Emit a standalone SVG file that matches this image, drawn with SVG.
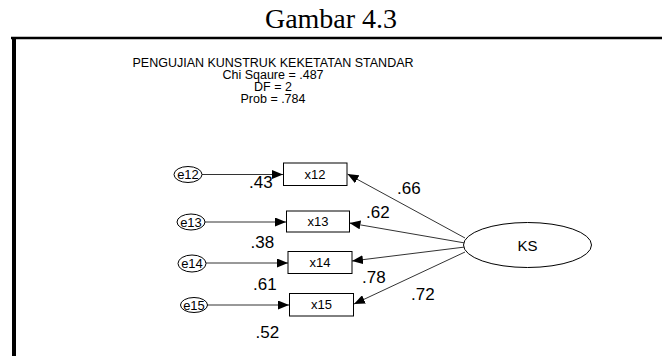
<svg xmlns="http://www.w3.org/2000/svg" width="662" height="356" viewBox="0 0 662 356">
<style>
.t{font-family:"Liberation Sans",Arial,sans-serif;fill:#000}
.title{font-family:"Liberation Serif","Times New Roman",serif;font-size:28px;fill:#000}
.hdr{font-size:12.5px}
.box{fill:#fff;stroke:#000;stroke-width:1}
.ell{fill:#fff;stroke:#000;stroke-width:1}
.lbl{font-size:13px}
.coef{font-size:17px}
.ln{stroke:#333;stroke-width:1;fill:none;marker-end:url(#ah)}
</style>
<defs>
<marker id="ah" markerUnits="userSpaceOnUse" markerWidth="11" markerHeight="9" refX="11" refY="4.5" orient="auto">
<path d="M0,0 L11,4.5 L0,9 z" fill="#000"/>
</marker>
</defs>
<rect width="662" height="356" fill="#fff"/>
<text class="title" x="331" y="28" text-anchor="middle">Gambar 4.3</text>
<g id="frame">
<line x1="11" y1="38" x2="662" y2="38" stroke="#000" stroke-width="2.5"/>
<line x1="14" y1="37" x2="14" y2="356" stroke="#000" stroke-width="4"/>
</g>
<g id="header" class="t hdr" text-anchor="middle">
<text x="273" y="67">PENGUJIAN KUNSTRUK KEKETATAN STANDAR</text>
<text x="273" y="79">Chi Sqaure = .487</text>
<text x="273" y="91">DF = 2</text>
<text x="273" y="103">Prob = .784</text>
</g>
<g id="connectors">
<line class="ln" x1="202" y1="174.5" x2="283" y2="174.5"/>
<line class="ln" x1="205" y1="222" x2="286" y2="222"/>
<line class="ln" x1="205" y1="263" x2="288" y2="263"/>
<line class="ln" x1="207" y1="305" x2="289" y2="305"/>
<line class="ln" x1="465" y1="238" x2="347.5" y2="174"/>
<line class="ln" x1="465" y1="243" x2="349.5" y2="223"/>
<line class="ln" x1="465" y1="247" x2="352" y2="261"/>
<line class="ln" x1="465" y1="252" x2="354" y2="304"/>
</g>
<g id="e12"><ellipse class="ell" cx="188" cy="174.5" rx="14" ry="8"/><text class="t lbl" x="188" y="179" text-anchor="middle">e12</text></g>
<g id="e13"><ellipse class="ell" cx="191" cy="222" rx="14" ry="8"/><text class="t lbl" x="191" y="226.5" text-anchor="middle">e13</text></g>
<g id="e14"><ellipse class="ell" cx="192" cy="263.5" rx="14" ry="8.5"/><text class="t lbl" x="192" y="268" text-anchor="middle">e14</text></g>
<g id="e15"><ellipse class="ell" cx="194" cy="305" rx="13.5" ry="7.5"/><text class="t lbl" x="194" y="309.5" text-anchor="middle">e15</text></g>
<g id="x12"><rect class="box" x="283.5" y="163" width="63.5" height="22.5"/><text class="t lbl" x="315" y="179" text-anchor="middle">x12</text></g>
<g id="x13"><rect class="box" x="286.5" y="211" width="63" height="21"/><text class="t lbl" x="318" y="226" text-anchor="middle">x13</text></g>
<g id="x14"><rect class="box" x="288" y="251.5" width="64" height="22"/><text class="t lbl" x="320" y="267" text-anchor="middle">x14</text></g>
<g id="x15"><rect class="box" x="289.5" y="293.5" width="64" height="22.5"/><text class="t lbl" x="321.5" y="309" text-anchor="middle">x15</text></g>
<g id="KS"><ellipse class="ell" cx="527.5" cy="245" rx="64" ry="22.5"/><text class="t" x="527.5" y="251" font-size="15" text-anchor="middle">KS</text></g>
<g id="coefs" class="t coef">
<text x="249" y="188">.43</text>
<text x="250.5" y="248">.38</text>
<text x="253" y="290">.61</text>
<text x="255.5" y="338">.52</text>
<text x="397" y="194">.66</text>
<text x="366" y="218">.62</text>
<text x="362" y="283">.78</text>
<text x="411" y="300">.72</text>
</g>
</svg>
